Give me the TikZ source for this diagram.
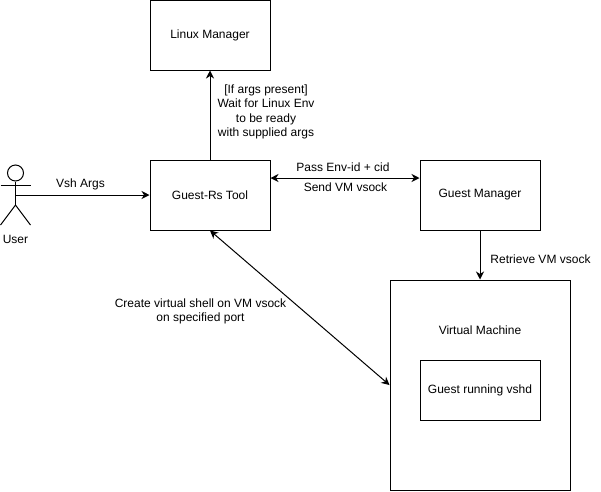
\documentclass[tikz,border=0pt]{standalone}
\usepackage{fontspec}
\setmainfont{Liberation Sans}
\usetikzlibrary{arrows.meta,calc}
\tikzset{
  boxn/.style={draw=black,line width=1pt,minimum width=120pt,minimum height=70pt,inner sep=0pt,font=\fontsize{12}{14.5}\selectfont,align=center},
  lbl/.style={inner sep=0pt,font=\fontsize{12}{14.5}\selectfont,align=center},
  conn/.style={draw=black,line width=1pt,-{Stealth[length=8pt,width=8pt,inset=2.5pt]}},
  biconn/.style={draw=black,line width=1pt,{Stealth[length=8pt,width=8pt,inset=2.5pt]}-{Stealth[length=8pt,width=8pt,inset=2.5pt]}},
  actorline/.style={draw=black,line width=1pt}
}
\begin{document}
\begin{tikzpicture}[x=1pt,y=-1pt]
\useasboundingbox (0,0) rectangle (601,491);
\fill[white] (0,0) rectangle (601,491);
\node[boxn] (lm) at (210,35) {\raisebox{-1pt}{Linux Manager}};
\node[boxn] (gr) at (210,195) {\raisebox{-1pt}{Guest-Rs Tool}};
\node[boxn] (gm) at (480,195) {\raisebox{-1pt}{Guest Manager}};
\node[boxn,minimum width=180pt,minimum height=210pt] (vm) at (480,385) {};
\node[boxn,minimum height=60pt] (gv) at (480,390) {\raisebox{-1pt}{Guest running vshd}};
\node[lbl] (vmt) at (480,330.5) {Virtual Machine};
% actor
\node[draw=black,line width=1pt,circle,minimum size=16pt,inner sep=0pt] (head) at (15.5,173) {};
\coordinate (hip) at (15.5,205);
\coordinate (waist) at (15.5,195);
\draw[actorline] (head.south) -- (hip);
\draw[actorline] (0.5,185) -- (30.5,185);
\draw[actorline] (0.5,225) -- (hip) -- (30.5,225);
\node[lbl] (user) at (15.5,239.5) {User};
% connectors
\draw[conn] (waist) -- (gr.west);
\draw[conn] (gr.north) -- (lm.south);
\draw[biconn] ([yshift=17pt]gr.east) -- ([yshift=17pt]gm.west);
\draw[conn] (gm.south) -- (vm.north);
\draw[biconn] (gr.south) -- (vm.west);
% labels
\node[lbl] (l1) at (80.5,184.5) {Vsh Args};
\node[lbl] (l2) at (266,112) {[If args present]\\Wait for Linux Env\\to be ready\\with supplied args};
\node[lbl] (l3) at (343,167.5) {Pass Env-id + cid};
\node[lbl] (l4) at (345.5,187.5) {Send VM vsock};
\node[lbl] (l5) at (540.5,259.5) {Retrieve VM vsock};
\node[lbl] (l6) at (200.5,311.5) {Create virtual shell on VM vsock\\on specified port};
\end{tikzpicture}
\end{document}
